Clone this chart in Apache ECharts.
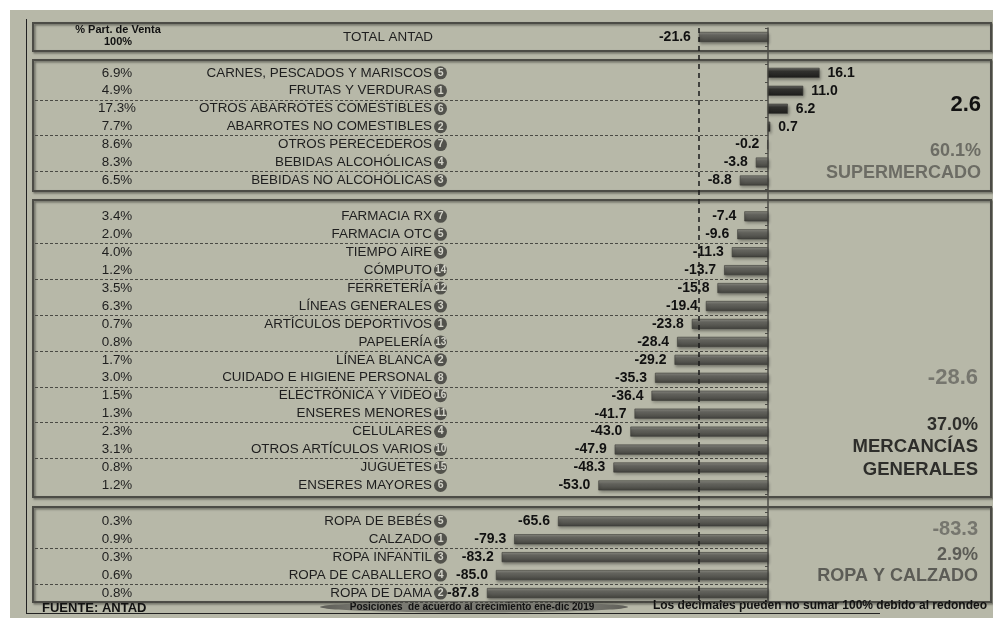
<!DOCTYPE html>
<html>
<head>
<meta charset="utf-8">
<script src="https://cdn.jsdelivr.net/npm/echarts@6/dist/echarts.min.js"></script>
<style>
html, body { margin: 0; padding: 0; background: #fff; }
#chart { width: 993px; height: 618px; }
</style>
</head>
<body>
<div id="chart"></div>
<script>
// ---- data ----
const totalName = 'TOTAL ANTAD';
const totalGrowth = -21.6;

const superNames = ['CARNES, PESCADOS Y MARISCOS', 'FRUTAS Y VERDURAS', 'OTROS ABARROTES COMESTIBLES',
  'ABARROTES NO COMESTIBLES', 'OTROS PERECEDEROS', 'BEBIDAS ALCOHÓLICAS', 'BEBIDAS NO ALCOHÓLICAS'];
const superShare = ['6.9%', '4.9%', '17.3%', '7.7%', '8.6%', '8.3%', '6.5%'];
const superRank = [5, 1, 6, 2, 7, 4, 3];
const superGrowth = [16.1, 11.0, 6.2, 0.7, -0.2, -3.8, -8.8];

const mercNames = ['FARMACIA RX', 'FARMACIA OTC', 'TIEMPO AIRE', 'CÓMPUTO', 'FERRETERÍA', 'LÍNEAS GENERALES',
  'ARTÍCULOS DEPORTIVOS', 'PAPELERÍA', 'LÍNEA BLANCA', 'CUIDADO E HIGIENE PERSONAL', 'ELECTRÓNICA Y VIDEO',
  'ENSERES MENORES', 'CELULARES', 'OTROS ARTÍCULOS VARIOS', 'JUGUETES', 'ENSERES MAYORES'];
const mercShare = ['3.4%', '2.0%', '4.0%', '1.2%', '3.5%', '6.3%', '0.7%', '0.8%', '1.7%', '3.0%', '1.5%',
  '1.3%', '2.3%', '3.1%', '0.8%', '1.2%'];
const mercRank = [7, 5, 9, 14, 12, 3, 1, 13, 2, 8, 16, 11, 4, 10, 15, 6];
const mercGrowth = [-7.4, -9.6, -11.3, -13.7, -15.8, -19.4, -23.8, -28.4, -29.2, -35.3, -36.4, -41.7,
  -43.0, -47.9, -48.3, -53.0];

const ropaNames = ['ROPA DE BEBÉS', 'CALZADO', 'ROPA INFANTIL', 'ROPA DE CABALLERO', 'ROPA DE DAMA'];
const ropaShare = ['0.3%', '0.9%', '0.3%', '0.6%', '0.8%'];
const ropaRank = [5, 1, 3, 4, 2];
const ropaGrowth = [-65.6, -79.3, -83.2, -85.0, -87.8];

const groupGrowth = ['2.6', '-28.6', '-83.3'];
const groupShare = ['60.1%', '37.0%', '2.9%'];
const groupTitle = [['SUPERMERCADO'], ['MERCANCÍAS', 'GENERALES'], ['ROPA Y CALZADO']];

// ---- rows (one blank slot between groups) ----
const groups = [
  { names: superNames, share: superShare, rank: superRank, growth: superGrowth },
  { names: mercNames, share: mercShare, rank: mercRank, growth: mercGrowth },
  { names: ropaNames, share: ropaShare, rank: ropaRank, growth: ropaGrowth }
];
let rows = [{ kind: 'total', name: totalName, growth: totalGrowth }];
groups.forEach(function (g) {
  rows.push({ kind: 'gap' });
  g.names.forEach(function (n, i) {
    rows.push({ kind: 'item', name: n, share: g.share[i], rank: g.rank[i], growth: g.growth[i], pos: i });
  });
});
const categories = rows.map(function (r, i) { return 'r' + i; });
// dashed separator above every 2nd row of a group
const splitAt = rows.map(function (r) { return r.kind === 'item' && r.pos > 0 && r.pos % 2 === 0; });

const negFill = { type: 'linear', x: 0, y: 0, x2: 0, y2: 1, colorStops: [
  { offset: 0, color: '#8c8c84' }, { offset: 0.35, color: '#65655f' }, { offset: 1, color: '#42423d' }] };
const posFill = { type: 'linear', x: 0, y: 0, x2: 0, y2: 1, colorStops: [
  { offset: 0, color: '#6e6e68' }, { offset: 0.35, color: '#333330' }, { offset: 1, color: '#1c1c1a' }] };

const barData = rows.map(function (r) {
  if (r.kind === 'gap') return '-';
  const neg = r.growth < 0;
  return {
    value: r.growth,
    itemStyle: { color: neg ? negFill : posFill },
    label: { position: neg ? 'left' : 'right' }
  };
});

// ---- layout helpers ----
const font = "'Liberation Sans', Arial, sans-serif";
const boxes = [[23, 51], [60, 191], [200, 497], [507, 602]];

let graphics = [
  { type: 'rect', shape: { x: 0, y: 0, width: 993, height: 10 }, style: { fill: '#fff' }, z: 100 },
  { type: 'rect', shape: { x: 0, y: 0, width: 10, height: 618 }, style: { fill: '#fff' }, z: 100 },
  { type: 'line', shape: { x1: 26.5, y1: 19, x2: 26.5, y2: 613 }, style: { stroke: '#222', lineWidth: 1 } },
  { type: 'line', shape: { x1: 26, y1: 613.5, x2: 880, y2: 613.5 }, style: { stroke: '#222', lineWidth: 1 } }
];
boxes.forEach(function (b) {
  graphics.push({
    type: 'rect', shape: { x: 33, y: b[0], width: 958, height: b[1] - b[0] },
    style: { fill: 'none', stroke: '#4c4c46', lineWidth: 2, shadowBlur: 2, shadowOffsetX: 1.5,
      shadowOffsetY: 1.5, shadowColor: 'rgba(0,0,0,0.45)' }
  });
});

function txt(x, y, text, size, color, weight, align) {
  return { type: 'text', x: x, y: y, style: { text: text, font: (weight || 'bold') + ' ' + size + 'px ' + font,
    fill: color, textAlign: align || 'right', textVerticalAlign: 'middle' } };
}
// header
graphics.push(txt(118, 30, '% Part. de Venta', 11, '#111', 'bold', 'center'));
graphics.push(txt(118, 42, '100%', 11, '#111', 'bold', 'center'));
// group summaries (right panel)
graphics.push(txt(981, 105, groupGrowth[0], 22, '#111'));
graphics.push(txt(981, 151, groupShare[0], 18, '#6c6c64'));
graphics.push(txt(981, 173, groupTitle[0][0], 18, '#6c6c64'));
graphics.push(txt(978, 378, groupGrowth[1], 22, '#76766e'));
graphics.push(txt(978, 425, groupShare[1], 18, '#2e2e2b'));
graphics.push(txt(978, 447, groupTitle[1][0], 18.5, '#2e2e2b'));
graphics.push(txt(978, 470, groupTitle[1][1], 18.5, '#2e2e2b'));
graphics.push(txt(978, 529, groupGrowth[2], 20, '#76766e'));
graphics.push(txt(978, 555, groupShare[2], 18, '#5c5c56'));
graphics.push(txt(978, 576, groupTitle[2][0], 18, '#5c5c56'));
// footer
graphics.push(txt(42, 608, 'FUENTE: ANTAD', 13, '#111', 'bold', 'left'));
graphics.push({ type: 'ellipse', shape: { cx: 474, cy: 607, rx: 154, ry: 5.5 },
  style: { fill: { type: 'linear', x: 0, y: 0, x2: 1, y2: 0, colorStops: [
    { offset: 0, color: '#5e5e58' }, { offset: 0.15, color: '#7a7a72' }, { offset: 0.85, color: '#7a7a72' },
    { offset: 1, color: '#5e5e58' }] } } });
graphics.push(txt(472, 607, 'Posiciones  de acuerdo al crecimiento ene-dic 2019', 10, '#111', 'bold', 'center'));
graphics.push(txt(987, 606, 'Los decimales pueden no sumar 100% debido al redondeo', 12, '#111', 'bold', 'right'));

// ---- chart ----
const chart = echarts.init(document.getElementById('chart'));
const badge = { height: 13, lineHeight: 13, borderRadius: 6.5, backgroundColor: '#52524c',
  color: '#d4d4ca', fontWeight: 'bold', fontFamily: font };
const option = {
  backgroundColor: '#b7b8a8',
  animation: false,
  grid: { left: 35, right: 225, top: 28, height: 574, containLabel: false, outerBoundsMode: 'none' },
  xAxis: { type: 'value', min: -229, max: 0, show: false },
  yAxis: {
    type: 'category', data: categories, inverse: true,
    axisLine: { show: true, lineStyle: { color: '#4d4d47', width: 1.5 } },
    axisTick: { show: true, interval: 0, length: 3, lineStyle: { color: '#4d4d47' } },
    splitLine: { show: true, interval: function (i) { return splitAt[i]; },
      lineStyle: { type: [3, 2], color: '#4a4a44', width: 1 } },
    axisLabel: {
      interval: 0, margin: -412, fontFamily: font,
      formatter: function (v, i) {
        const r = rows[i];
        if (!r || r.kind === 'gap') return '';
        if (r.kind === 'total') return '{n|' + r.name + '}{e| }';
        const tag = r.rank > 9 ? 'bb' : 'b';
        return '{p|' + r.share + '}{n|' + r.name + '}{' + tag + '|' + r.rank + '}';
      },
      rich: {
        p: { width: 154, align: 'center', fontSize: 13.4, color: '#1e1e1e', fontFamily: font },
        n: { width: 238, align: 'right', fontSize: 13.4, color: '#1e1e1e', fontFamily: font, padding: [0, 2, 0, 0] },
        e: { width: 12, align: 'right' },
        b: Object.assign({ width: 9.5, align: 'right', fontSize: 10.5, padding: [0, 3.5, 0, 0] }, badge),
        bb: Object.assign({ width: 12.4, align: 'right', fontSize: 10, padding: [0, 0.6, 0, 0] }, badge)
      }
    }
  },
  series: [{
    type: 'bar',
    data: barData,
    barWidth: 10,
    clip: false,
    itemStyle: { borderColor: '#3a3a35', borderWidth: 0.6, shadowBlur: 3, shadowOffsetX: 1, shadowOffsetY: 2,
      shadowColor: 'rgba(0,0,0,0.35)' },
    label: { show: true, distance: 8, fontFamily: font, fontSize: 14, fontWeight: 'bold', color: '#111',
      formatter: function (p) { return p.value.toFixed(1); } },
    markLine: {
      silent: true, symbol: 'none', label: { show: false },
      lineStyle: { type: [5, 4], color: '#1a1a1a', width: 1.5 },
      data: [{ xAxis: totalGrowth }]
    }
  }],
  graphic: graphics
};
chart.setOption(option);
</script>
</body>
</html>
